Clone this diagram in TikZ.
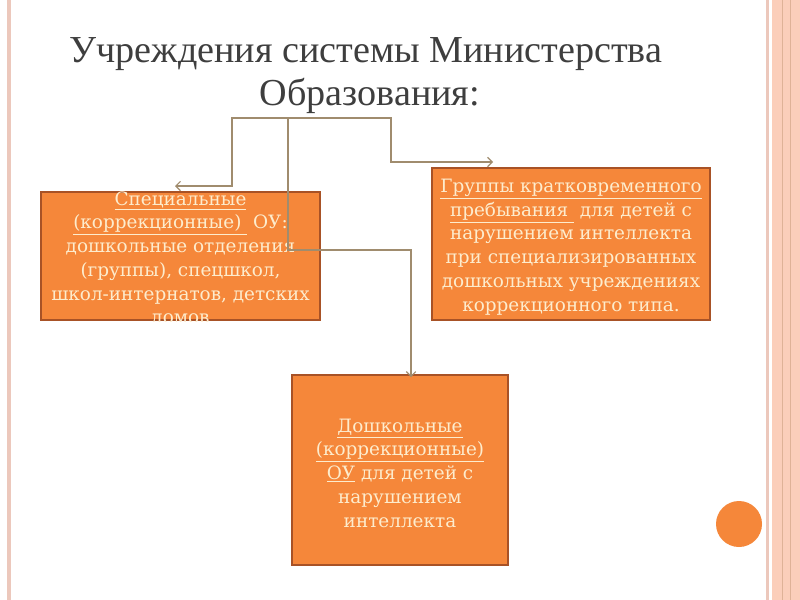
\documentclass[tikz,border=0pt]{standalone}
\usepackage{fontspec}
\setmainfont{Liberation Serif}
\newfontfamily\boxfont{DejaVu Serif}
\usetikzlibrary{positioning,arrows.meta}

\definecolor{boxfill}{RGB}{245,135,58}
\definecolor{boxedge}{RGB}{168,82,38}
\definecolor{boxtext}{RGB}{253,236,205}
\definecolor{linkcol}{RGB}{160,140,110}
\definecolor{stripe}{RGB}{236,200,188}
\definecolor{band}{RGB}{251,206,186}
\definecolor{titlecol}{RGB}{62,62,62}

\tikzset{
  ouBox/.style={draw=boxedge, line width=1.5pt, fill=boxfill},
  ouText/.style={text=boxtext, align=center, inner sep=0pt,
    font=\boxfont\fontsize{13.8}{17.8}\selectfont},
  headText/.style={text=titlecol, anchor=base, inner sep=0pt,
    font=\fontsize{28.6}{32}\selectfont},
  link/.style={draw=linkcol, line width=0.8pt},
}

\begin{document}
\begin{tikzpicture}[x=0.75pt, y=-0.75pt, >={Straight Barb[length=3.5pt,width=7pt]}]
\useasboundingbox (0,0) rectangle (800,600);
\fill[white] (0,0) rectangle (800,600);
% page stripes
\fill[stripe] (7,0) rectangle (11,600);
\fill[stripe] (766,0) rectangle (769,600);
\fill[band] (772,0) rectangle (800,600);
\draw[stripe!70!brown, line width=0.5pt] (782,0) -- (782,600);
\draw[stripe!70!brown, line width=0.5pt] (790,0) -- (790,600);
\fill[boxfill] (739,524) circle[radius=17.25pt];

% title
\node[headText] (head1) at (366,62) {Учреждения системы Министерства};
\node[headText] (head2) at (370,105) {Образования:};

% boxes
\node[ouBox, minimum width=209.25pt, minimum height=96pt] (spec) at (180.5,256) {};
\node[ouBox, minimum width=208.5pt, minimum height=114pt] (grp) at (571,244) {};
\node[ouBox, minimum width=162pt, minimum height=142.5pt] (dou) at (400,470) {};

\begin{scope}
  \clip (spec.south west) rectangle (spec.north east);
  \node[ouText] (specTxt) at (180.5,259) {\underline{Специальные}\\
    \underline{(коррекционные)\ }\ ОУ:\\
    дошкольные отделения\\
    (группы), спецшкол,\\
    школ-интернатов, детских\\
    домов};
\end{scope}
\node[ouText] (grpTxt) at (571,247) {\underline{Группы кратковременного}\\
  \underline{пребывания\ }\ для детей с\\
  нарушением интеллекта\\
  при специализированных\\
  дошкольных учреждениях\\
  коррекционного типа.};
\node[ouText] (douTxt) at (400,473) {\underline{Дошкольные}\\
  \underline{(коррекционные)}\\
  \underline{ОУ}\ для детей с\\
  нарушением\\
  интеллекта};

% connectors
\coordinate (root) at (288,118);
\coordinate (specIn) at (175,186);
\coordinate (grpIn) at (493,162);
\coordinate (douIn) at (411,377);
\draw[link,->] (root) -- ++(-56,0) |- (specIn);
\draw[link,->] (root) -- ++(103,0) |- (grpIn);
\draw[link,->] (root) -- ++(0,132) -| (douIn);
\end{tikzpicture}
\end{document}
